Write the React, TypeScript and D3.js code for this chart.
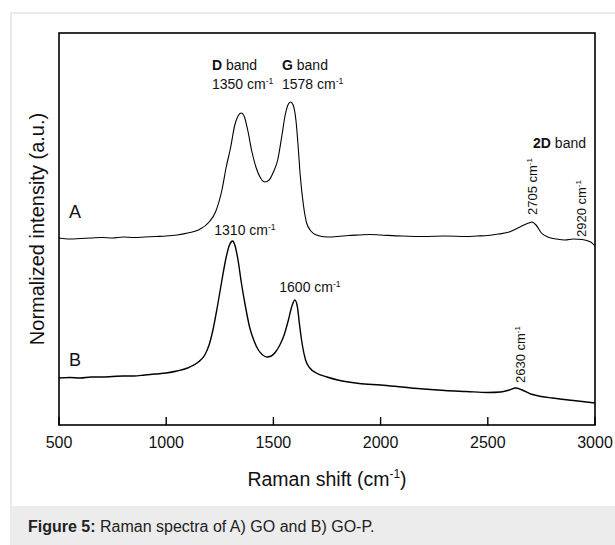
import React from "react";
import * as d3 from "d3";

// Raman shift (cm-1) and normalized intensity
const shiftA = [500,550,600,650,700,750,800,850,900,950,1000,1050,1100,1150,1200,1230,1260,1280,1300,1320,1335,1350,1365,1380,1400,1420,1440,1460,1480,1500,1520,1540,1555,1570,1580,1592,1605,1615,1625,1640,1655,1675,1700,1750,1800,1850,1900,1950,2000,2100,2200,2300,2400,2450,2500,2550,2600,2650,2690,2705,2725,2750,2780,2820,2860,2900,2940,2980,3000];
const intensityA = [1.87,1.86,1.865,1.87,1.875,1.87,1.88,1.875,1.88,1.885,1.89,1.9,1.92,1.95,2.03,2.13,2.35,2.58,2.77,3.0,3.09,3.12,3.08,2.95,2.73,2.57,2.47,2.43,2.45,2.53,2.65,2.9,3.1,3.21,3.23,3.2,3.05,2.8,2.5,2.2,2.02,1.94,1.9,1.88,1.885,1.895,1.9,1.905,1.9,1.89,1.885,1.89,1.885,1.89,1.895,1.91,1.93,1.98,2.02,2.03,2.0,1.92,1.88,1.86,1.85,1.86,1.855,1.83,1.79];

const shiftB = [500,550,600,650,700,750,800,850,900,950,1000,1050,1100,1150,1180,1200,1220,1240,1260,1280,1295,1310,1320,1335,1350,1370,1390,1410,1430,1450,1470,1490,1510,1530,1550,1570,1585,1600,1612,1622,1635,1650,1670,1700,1750,1800,1850,1900,2000,2100,2200,2300,2400,2500,2560,2600,2630,2660,2700,2750,2800,2900,3000];
const intensityB = [0.47,0.475,0.47,0.48,0.48,0.485,0.49,0.49,0.5,0.51,0.52,0.54,0.57,0.63,0.7,0.8,0.97,1.2,1.45,1.68,1.8,1.84,1.8,1.65,1.43,1.18,0.97,0.84,0.75,0.7,0.68,0.69,0.73,0.8,0.9,1.05,1.18,1.25,1.18,1.0,0.8,0.65,0.57,0.52,0.48,0.45,0.43,0.415,0.4,0.38,0.36,0.345,0.335,0.325,0.33,0.35,0.37,0.35,0.31,0.285,0.27,0.245,0.22];

const xTicks = [500, 1000, 1500, 2000, 2500, 3000];

const W = 615, H = 545;
const L = 59, R = 595, T = 33, B = 425;
const FONT = "'Liberation Sans', Arial, sans-serif";

export default function App() {
  const x = d3.scaleLinear().domain([500, 3000]).range([L, R]);
  const y = d3.scaleLinear().domain([0, 3.92]).range([B, T]);
  const mk = (xs: number[], ys: number[]) =>
    d3
      .line<number>()
      .x((d) => x(d))
      .y((_, i) => y(ys[i]))
      .curve(d3.curveMonotoneX)(xs) || "";

  const sup = (base: string, fs: number) => (
    <>
      {base}
      <tspan fontSize={fs * 0.62} dy={-fs * 0.38}>-1</tspan>
    </>
  );

  return (
    <svg
      width={W}
      height={H}
      style={{ position: "absolute", left: 0, top: 0, background: "#fff" }}
      fontFamily={FONT}
    >
      {/* card */}
      <rect x={11} y={13} width={W} height={H} fill="#fff" stroke="#e3e3e3" strokeWidth={1.5} />
      <rect x={11.75} y={506} width={W} height={H - 506} fill="#ececec" />

      {/* spectra */}
      <path d={mk(shiftA, intensityA)} fill="none" stroke="#000" strokeWidth={1.1} />
      <path d={mk(shiftB, intensityB)} fill="none" stroke="#000" strokeWidth={1.4} />

      {/* frame */}
      <rect x={L} y={T} width={R - L} height={B - T} fill="none" stroke="#000" strokeWidth={1.6} />
      {xTicks.map((t) => (
        <g key={t}>
          <line x1={x(t)} x2={x(t)} y1={B} y2={B - 8} stroke="#000" strokeWidth={1.4} />
          <text x={x(t)} y={447.5} textAnchor="middle" fontSize={16} fill="#111">
            {t}
          </text>
        </g>
      ))}

      {/* axis titles */}
      <text x={327} y={486} textAnchor="middle" fontSize={19.5} fill="#111">
        Raman shift (cm<tspan fontSize={12} dy={-8}>-1</tspan>
        <tspan dy={8}>)</tspan>
      </text>
      <text
        transform={`translate(44,${(T + B) / 2}) rotate(-90)`}
        textAnchor="middle"
        fontSize={20}
        fill="#111"
      >
        Normalized intensity (a.u.)
      </text>

      {/* series labels */}
      <text x={75} y={218} textAnchor="middle" fontSize={18} fill="#111">A</text>
      <text x={75} y={366} textAnchor="middle" fontSize={18} fill="#111">B</text>

      {/* peak annotations A */}
      <text x={212} y={70} fontSize={14} fill="#111">
        <tspan fontWeight="bold">D</tspan> band
      </text>
      <text x={212} y={89} fontSize={14} fill="#111">{sup("1350 cm", 14)}</text>
      <text x={282} y={70} fontSize={14} fill="#111">
        <tspan fontWeight="bold">G</tspan> band
      </text>
      <text x={282} y={89} fontSize={14} fill="#111">{sup("1578 cm", 14)}</text>
      <text x={586} y={148} textAnchor="end" fontSize={14} fill="#111">
        <tspan fontWeight="bold">2D</tspan> band
      </text>
      <text transform="translate(537,215) rotate(-90)" fontSize={13} fill="#111">
        {sup("2705 cm", 13)}
      </text>
      <text transform="translate(586,237) rotate(-90)" fontSize={13} fill="#111">
        {sup("2920 cm", 13)}
      </text>

      {/* peak annotations B */}
      <text x={245} y={235} textAnchor="middle" fontSize={14} fill="#111">{sup("1310 cm", 14)}</text>
      <text x={310} y={292} textAnchor="middle" fontSize={14} fill="#111">{sup("1600 cm", 14)}</text>
      <text transform="translate(525,383) rotate(-90)" fontSize={13} fill="#111">
        {sup("2630 cm", 13)}
      </text>

      {/* caption */}
      <text x={28} y={532} fontSize={16} fill="#222">
        <tspan fontWeight="bold">Figure 5:</tspan> Raman spectra of A) GO and B) GO-P.
      </text>
    </svg>
  );
}
